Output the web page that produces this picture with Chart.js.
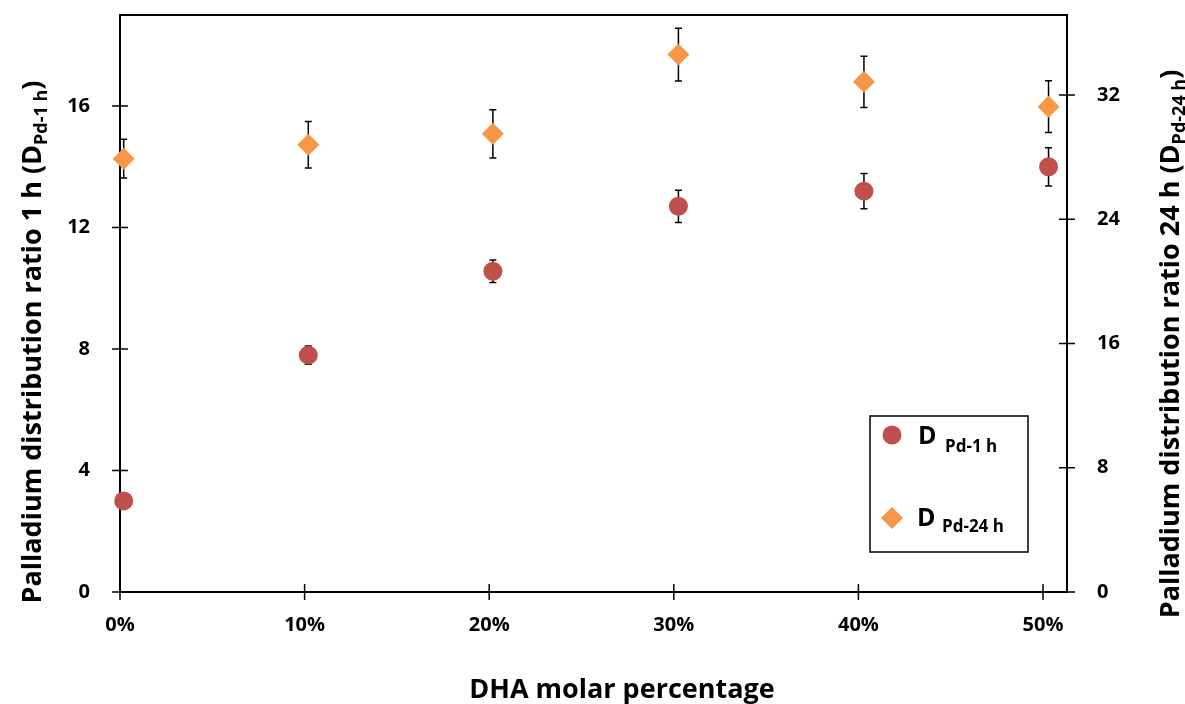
<!DOCTYPE html>
<html>
<head>
<meta charset="utf-8">
<script src="https://cdn.jsdelivr.net/npm/chart.js@4.4.1/dist/chart.umd.min.js"></script>
<style>
  html, body { margin: 0; padding: 0; background: #fff; }
  #wrap { width: 1185px; height: 704px; }
</style>
</head>
<body>
<div id="wrap"><canvas id="chart" width="1185" height="704"></canvas></div>
<script>
// DHA molar percentage of each sample
const dhaPct = [0.2, 10.2, 20.2, 30.25, 40.3, 50.3];
// distribution ratio after 1 h (left axis) and its error
const dPd1h = [3.0, 7.8, 10.56, 12.7, 13.2, 14.0];
const dPd1hErr = [0.1, 0.3, 0.37, 0.53, 0.58, 0.63];
// distribution ratio after 24 h (right axis) and its error
const dPd24h = [27.9, 28.8, 29.5, 34.6, 32.85, 31.25];
const dPd24hErr = [1.25, 1.5, 1.55, 1.7, 1.65, 1.67];

const xTicks = [0, 10, 20, 30, 40, 50];
const leftTicks = [0, 4, 8, 12, 16];
const rightTicks = [0, 8, 16, 24, 32];

const FONT = '"Open Sans", "DejaVu Sans", sans-serif';
const RED = '#C0504D';
const ORANGE = '#F79646';

function toPoints(xs, ys) {
    return xs.map((x, i) => ({ x: x, y: ys[i] }));
}

function fixTicks(list) {
    return function(scale) { scale.ticks = list.map(v => ({ value: v })); };
}

// vertical axes get a fixed width and no extra room for edge labels
function fitVertical(width) {
    return function(scale) {
        scale.width = width;
        scale.paddingTop = 0;
        scale.paddingBottom = 0;
    };
}

// vertical error bars, drawn under the markers
const errorBars = {
    id: 'errorBars',
    beforeDatasetsDraw(chart) {
        const ctx = chart.ctx;
        const xs = chart.scales.x;
        const sets = [[chart.scales.y, dPd1h, dPd1hErr], [chart.scales.y2, dPd24h, dPd24hErr]];
        ctx.save();
        ctx.strokeStyle = '#000';
        ctx.lineWidth = 1.5;
        sets.forEach(([ys, vals, errs]) => {
            vals.forEach((v, i) => {
                const px = xs.getPixelForValue(dhaPct[i]);
                const top = ys.getPixelForValue(v + errs[i]);
                const bot = ys.getPixelForValue(v - errs[i]);
                ctx.beginPath();
                ctx.moveTo(px, top); ctx.lineTo(px, bot);
                ctx.moveTo(px - 3.5, top); ctx.lineTo(px + 3.5, top);
                ctx.moveTo(px - 3.5, bot); ctx.lineTo(px + 3.5, bot);
                ctx.stroke();
            });
        });
        ctx.restore();
    }
};

// box top edge plus tick marks that cross the axis lines
const axisFrame = {
    id: 'axisFrame',
    beforeDatasetsDraw(chart) {
        const ctx = chart.ctx;
        const a = chart.chartArea;
        const len = 8;
        ctx.save();
        ctx.strokeStyle = '#000';
        ctx.lineWidth = 2;
        ctx.beginPath();
        ctx.moveTo(a.left, a.top); ctx.lineTo(a.right, a.top);
        ctx.stroke();
        ctx.lineWidth = 1.5;
        ctx.beginPath();
        leftTicks.forEach(v => {
            const py = chart.scales.y.getPixelForValue(v);
            ctx.moveTo(a.left - len, py); ctx.lineTo(a.left + len, py);
        });
        rightTicks.forEach(v => {
            const py = chart.scales.y2.getPixelForValue(v);
            ctx.moveTo(a.right - len, py); ctx.lineTo(a.right + len, py);
        });
        xTicks.forEach(v => {
            const px = chart.scales.x.getPixelForValue(v);
            ctx.moveTo(px, a.bottom - len); ctx.lineTo(px, a.bottom + len);
        });
        ctx.stroke();
        ctx.restore();
    }
};

// rotated axis titles with a subscript part
function drawRotatedTitle(ctx, baseX, midY, main, sub, size) {
    const big = 'bold ' + size + 'px ' + FONT;
    const small = 'bold ' + Math.round(size * 0.66) + 'px ' + FONT;
    ctx.font = big;
    const w1 = ctx.measureText(main).width;
    const w3 = ctx.measureText(')').width;
    ctx.font = small;
    const w2 = ctx.measureText(sub).width;
    const total = w1 + w2 + w3;
    ctx.save();
    ctx.translate(baseX, midY);
    ctx.rotate(-Math.PI / 2);
    ctx.fillStyle = '#000';
    ctx.textBaseline = 'alphabetic';
    let x = -total / 2;
    ctx.font = big;
    ctx.fillText(main, x, 0);
    x += w1;
    ctx.font = small;
    ctx.fillText(sub, x, 6);
    x += w2;
    ctx.font = big;
    ctx.fillText(')', x, 0);
    ctx.restore();
}

const titlesAndLegend = {
    id: 'titlesAndLegend',
    afterDraw(chart) {
        const ctx = chart.ctx;
        drawRotatedTitle(ctx, 41, 342, 'Palladium distribution ratio 1 h (D', 'Pd-1 h', 27);
        drawRotatedTitle(ctx, 1179, 344, 'Palladium distribution ratio 24 h (D', 'Pd-24 h', 27);

        ctx.save();
        ctx.fillStyle = '#000';
        ctx.textAlign = 'center';
        ctx.textBaseline = 'alphabetic';
        ctx.font = 'bold 27px ' + FONT;
        ctx.fillText('DHA molar percentage', 622, 698);
        ctx.restore();

        // legend box
        ctx.save();
        ctx.strokeStyle = '#000';
        ctx.lineWidth = 1.5;
        ctx.strokeRect(870, 416, 158, 136);
        ctx.fillStyle = RED;
        ctx.beginPath();
        ctx.arc(892, 435, 9.5, 0, Math.PI * 2);
        ctx.fill();
        ctx.fillStyle = ORANGE;
        ctx.beginPath();
        ctx.moveTo(892, 507); ctx.lineTo(903, 518); ctx.lineTo(892, 529); ctx.lineTo(881, 518);
        ctx.closePath();
        ctx.fill();
        ctx.fillStyle = '#000';
        ctx.textBaseline = 'alphabetic';
        ctx.font = 'bold 25px ' + FONT;
        ctx.fillText('D', 918, 444);
        ctx.fillText('D', 917, 526);
        ctx.font = 'bold 17px ' + FONT;
        ctx.fillText('Pd-1 h', 945, 452);
        ctx.fillText('Pd-24 h', 942, 532);
        ctx.restore();
    }
};

const tickFont = { family: FONT, size: 20, weight: 'bold' };

new Chart(document.getElementById('chart').getContext('2d'), {
    type: 'scatter',
    data: {
        datasets: [
            {
                label: 'D Pd-1 h',
                data: toPoints(dhaPct, dPd1h),
                yAxisID: 'y',
                pointStyle: 'circle',
                pointRadius: 9.5,
                pointHoverRadius: 9.5,
                backgroundColor: RED,
                borderWidth: 0,
                clip: false
            },
            {
                label: 'D Pd-24 h',
                data: toPoints(dhaPct, dPd24h),
                yAxisID: 'y2',
                pointStyle: 'rectRot',
                pointRadius: 11,
                pointHoverRadius: 11,
                backgroundColor: ORANGE,
                borderWidth: 0,
                clip: false
            }
        ]
    },
    options: {
        responsive: false,
        animation: false,
        layout: { padding: { top: 15, left: 0, right: 0, bottom: 0 } },
        plugins: { legend: { display: false }, tooltip: { enabled: false } },
        scales: {
            x: {
                type: 'linear',
                min: 0, max: 51.3,
                afterBuildTicks: fixTicks(xTicks),
                afterFit: s => { s.height = 112; s.paddingLeft = 0; s.paddingRight = 0; },
                grid: { display: false },
                border: { display: true, color: '#000', width: 2 },
                ticks: {
                    padding: 13, color: '#000', font: tickFont,
                    callback: v => v + '%'
                }
            },
            y: {
                position: 'left',
                min: 0, max: 19,
                afterBuildTicks: fixTicks(leftTicks),
                afterFit: fitVertical(120),
                grid: { display: false },
                border: { display: true, color: '#000', width: 2 },
                ticks: { padding: 22, color: '#000', font: tickFont }
            },
            y2: {
                position: 'right',
                min: 0, max: 37.15,
                afterBuildTicks: fixTicks(rightTicks),
                afterFit: fitVertical(118),
                grid: { display: false },
                border: { display: true, color: '#000', width: 2 },
                ticks: { padding: 22, color: '#000', font: tickFont }
            }
        }
    },
    plugins: [errorBars, axisFrame, titlesAndLegend]
});
</script>
</body>
</html>
